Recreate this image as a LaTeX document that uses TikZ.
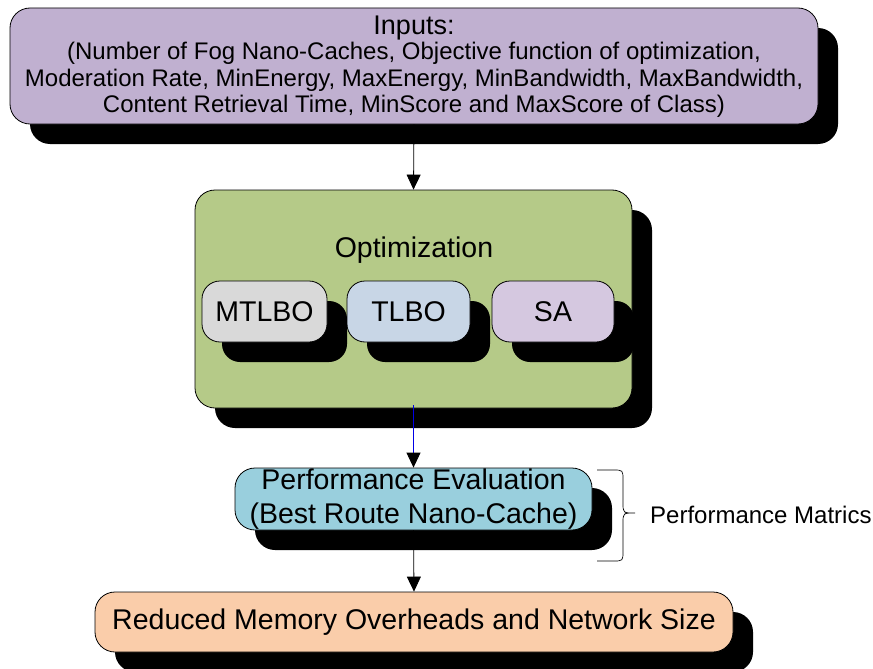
\documentclass[tikz,border=0pt]{standalone}
\usepackage{fontspec}
\setmainfont{Liberation Sans}
\usetikzlibrary{arrows.meta,shadows}

\definecolor{inputsfill}{RGB}{192,176,208}
\definecolor{optfill}{RGB}{181,202,136}
\definecolor{mtlbofill}{RGB}{217,217,217}
\definecolor{tlbofill}{RGB}{200,214,230}
\definecolor{safill}{RGB}{213,200,224}
\definecolor{perffill}{RGB}{153,207,221}
\definecolor{resultfill}{RGB}{250,205,170}
\definecolor{linkblue}{RGB}{0,0,230}

\tikzset{
  box/.style={draw=black, line width=0.8pt, rounded corners=20pt, inner sep=0pt,
    align=center, text=black,
    drop shadow={shadow xshift=20pt, shadow yshift=-20pt, fill=black, opacity=1}},
  smallbox/.style={box, rounded corners=18pt, minimum height=61pt,
    font=\fontsize{28.5}{30}\selectfont},
  flow/.style={line width=0.8pt, -{Triangle[length=15pt,width=14pt,black]}},
}

\begin{document}
\begin{tikzpicture}[x=1pt,y=-1pt]
\useasboundingbox (0,0) rectangle (873,669);

% input parameters
\node[box, fill=inputsfill, minimum width=808pt, minimum height=116pt] (inputs) at (414,66) {};
\node[align=center, inner sep=0pt, font=\fontsize{24}{26.5}\selectfont] (inputstext) at (414,66.5)
  {{\fontsize{27}{27}\selectfont Inputs:}\\[-1pt]
   (Number of Fog Nano-Caches, Objective function of optimization,\\
   Moderation Rate, MinEnergy, MaxEnergy, MinBandwidth, MaxBandwidth,\\
   Content Retrieval Time, MinScore and MaxScore of Class)};

% optimization block with the three algorithms
\node[box, fill=optfill, minimum width=437pt, minimum height=218pt] (opt) at (413.5,299) {};
\node[inner sep=0pt, font=\fontsize{28.5}{30}\selectfont] (opttitle) at (414,250) {Optimization};
\node[smallbox, fill=mtlbofill, minimum width=125pt] (mtlbo) at (264.5,311.5) {MTLBO};
\node[smallbox, fill=tlbofill, minimum width=123pt] (tlbo) at (408.5,311.5) {TLBO};
\node[smallbox, fill=safill, minimum width=122pt] (sa) at (553,311.5) {SA};

% evaluation
\node[box, fill=perffill, rounded corners=20pt, minimum width=357pt, minimum height=62pt,
  font=\fontsize{28.5}{34}\selectfont] (perf) at (413.5,499)
  {Performance Evaluation\\(Best Route Nano-Cache)};

% result
\node[box, fill=resultfill, minimum width=638pt, minimum height=60pt,
  font=\fontsize{28.5}{30}\selectfont] (result) at (414,622)
  {Reduced Memory Overheads and Network Size};

% connectors
\draw[flow] (inputs.south) -- (opt.north);
\draw[flow, draw=linkblue] ([yshift=3pt]opt.south) -- (perf.north);
\draw[flow] (perf.south) -- (result.north);

% brace and its label
\coordinate (bracetop) at (597,470);
\coordinate (bracetip) at (635,513);
\coordinate (bracebot) at (597,561);
\draw[line width=0.7pt] (bracetop) -- (613,470) .. controls (623,470) .. (623,480)
  -- (623,503) .. controls (623,513) .. (bracetip)
  .. controls (623,513) .. (623,523) -- (623,551)
  .. controls (623,561) .. (613,561) -- (bracebot);
\node[anchor=west, inner sep=0pt, font=\fontsize{24}{26}\selectfont] (metrics) at (650,515) {Performance Matrics};
\end{tikzpicture}
\end{document}
